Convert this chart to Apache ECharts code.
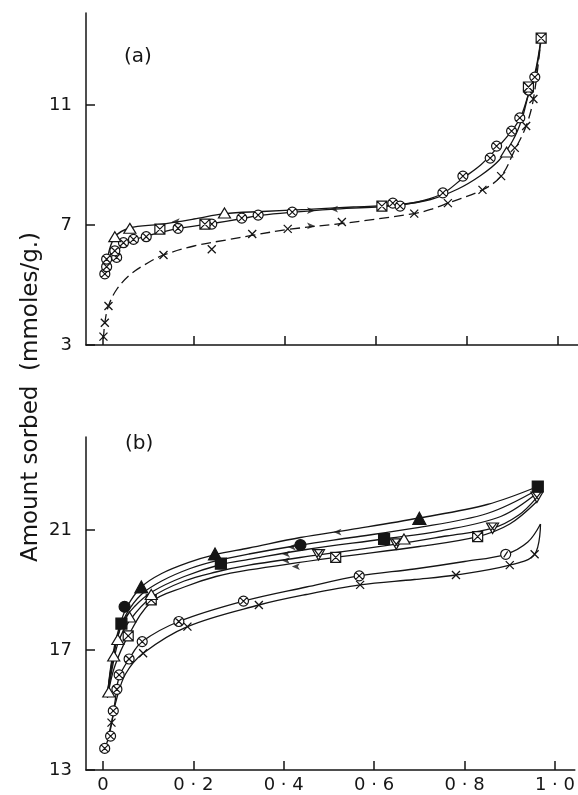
<!DOCTYPE html>
<html><head><meta charset="utf-8">
<script src="https://cdn.jsdelivr.net/npm/echarts@6/dist/echarts.min.js"></script>
<style>html,body{margin:0;padding:0;background:#fff}#c{width:578px;height:795px}</style>
</head><body><div id="c"></div>
<script>
// ---------- tick definitions ----------
const xTicks = [0, 0.2, 0.4, 0.6, 0.8, 1.0];
const xTickLabels = ['0', '0 · 2', '0 · 4', '0 · 6', '0 · 8', '1 · 0'];
const yTicksA = [3, 7, 11];
const yTicksB = [13, 17, 21];

// ---------- panel (a) markers ----------
const a_circX = [[0.004,5.37],[0.008,5.61],[0.008,5.86],[0.030,5.92],[0.026,6.14],[0.045,6.41],[0.067,6.52],[0.095,6.61],[0.165,6.89],[0.239,7.03],[0.305,7.23],[0.341,7.33],[0.416,7.43],[0.637,7.73],[0.653,7.63],[0.747,8.07],[0.791,8.63],[0.851,9.23],[0.865,9.63],[0.898,10.13],[0.916,10.57],[0.935,11.5],[0.949,11.93]];
const a_tri = [[0.026,6.61],[0.059,6.89],[0.267,7.4],[0.887,9.43]];
const a_sqX = [[0.125,6.86],[0.224,7.03],[0.613,7.63],[0.935,11.6],[0.963,13.23]];
const a_cross = [[0.001,3.28],[0.004,3.74],[0.012,4.3],[0.133,6.0],[0.239,6.19],[0.328,6.7],[0.406,6.87],[0.525,7.1],[0.684,7.38],[0.758,7.73],[0.834,8.17],[0.875,8.63],[0.905,9.57],[0.93,10.3],[0.946,11.2]];
// ---------- panel (a) curves ----------
const a_curveSorb = [[0.004,5.35],[0.01,5.9],[0.03,6.15],[0.06,6.45],[0.1,6.65],[0.165,6.88],[0.24,7.05],[0.3,7.2],[0.35,7.33],[0.42,7.43],[0.5,7.52],[0.6,7.6],[0.65,7.66],[0.7,7.8],[0.747,8.05],[0.79,8.55],[0.83,9.0],[0.865,9.55],[0.898,10.13],[0.918,10.6],[0.935,11.35],[0.95,12.0],[0.963,13.23]];
const a_curveDesorb = [[0.01,5.9],[0.026,6.6],[0.059,6.9],[0.125,7.02],[0.2,7.2],[0.267,7.38],[0.35,7.45],[0.45,7.52],[0.55,7.6],[0.65,7.68],[0.72,7.85],[0.78,8.2],[0.83,8.65],[0.87,9.15],[0.9,9.8],[0.92,10.5],[0.935,11.35],[0.95,12.1],[0.963,13.23]];
const a_curveCross = [[0.001,3.2],[0.004,3.74],[0.012,4.3],[0.03,4.85],[0.06,5.35],[0.1,5.75],[0.133,6.0],[0.2,6.3],[0.27,6.5],[0.33,6.66],[0.406,6.85],[0.525,7.05],[0.684,7.38],[0.72,7.52],[0.758,7.73],[0.834,8.17],[0.875,8.63],[0.905,9.5],[0.93,10.3],[0.946,11.2],[0.963,13.23]];
const a_arrowsRight = [[0.466,7.48],[0.466,6.97]];
const a_arrowsLeft = [[0.499,7.53],[0.151,7.11]];

// ---------- panel (b) markers ----------
const b_dot = [[0.048,18.44],[0.437,20.5]];
const b_triFill = [[0.085,19.1],[0.248,20.2],[0.7,21.39]];
const b_sqFill = [[0.041,17.88],[0.261,19.88],[0.622,20.7],[0.962,22.45]];
const b_tri = [[0.013,15.6],[0.024,16.8],[0.033,17.35],[0.059,18.1],[0.107,18.85],[0.666,20.7]];
const b_triDownX = [[0.477,20.17],[0.649,20.53],[0.862,21.06],[0.96,22.09]];
const b_sqX = [[0.056,17.47],[0.107,18.67],[0.515,20.09],[0.829,20.78]];
const b_circX = [[0.004,13.72],[0.017,14.13],[0.023,14.97],[0.031,15.69],[0.036,16.17],[0.058,16.7],[0.087,17.28],[0.168,17.95],[0.311,18.63],[0.567,19.47]];
const b_circSlash = [[0.891,20.19]];
const b_cross = [[0.019,14.58],[0.089,16.89],[0.187,17.78],[0.345,18.5],[0.569,19.17],[0.781,19.5],[0.9,19.83],[0.955,20.19]];
// ---------- panel (b) curves ----------
const b_curve1 = [[0.01,15.5],[0.02,16.7],[0.035,17.7],[0.052,18.4],[0.085,19.1],[0.13,19.55],[0.19,19.92],[0.248,20.18],[0.323,20.4],[0.437,20.75],[0.55,21.02],[0.7,21.4],[0.85,21.85],[0.962,22.45]];
const b_curve2 = [[0.01,15.5],[0.02,16.6],[0.035,17.55],[0.052,18.2],[0.085,18.85],[0.13,19.3],[0.19,19.7],[0.25,19.97],[0.323,20.2],[0.437,20.5],[0.55,20.75],[0.689,21.06],[0.85,21.55],[0.962,22.35]];
const b_curve3 = [[0.01,15.5],[0.02,16.5],[0.041,17.85],[0.07,18.45],[0.11,18.95],[0.18,19.45],[0.261,19.85],[0.323,20.02],[0.45,20.35],[0.622,20.7],[0.75,20.98],[0.88,21.45],[0.962,22.25]];
const b_curve4 = [[0.01,15.45],[0.022,16.5],[0.035,17.3],[0.06,18.0],[0.107,18.75],[0.18,19.3],[0.25,19.6],[0.323,19.83],[0.477,20.17],[0.649,20.53],[0.76,20.8],[0.862,21.06],[0.92,21.5],[0.96,22.09]];
const b_curve5 = [[0.01,15.4],[0.025,16.4],[0.056,17.47],[0.107,18.6],[0.18,19.1],[0.25,19.45],[0.323,19.67],[0.515,20.09],[0.7,20.45],[0.829,20.78],[0.9,21.2],[0.96,21.95]];
const b_curveCirc = [[0.004,13.72],[0.012,14.05],[0.02,14.6],[0.027,15.3],[0.036,16.1],[0.058,16.7],[0.087,17.28],[0.168,17.95],[0.311,18.63],[0.45,19.1],[0.567,19.47],[0.689,19.7],[0.8,19.95],[0.891,20.19],[0.94,20.6],[0.968,21.2]];
const b_curveCross = [[0.012,14.1],[0.019,14.58],[0.03,15.35],[0.05,16.2],[0.089,16.89],[0.187,17.78],[0.345,18.5],[0.45,18.85],[0.569,19.17],[0.689,19.35],[0.781,19.5],[0.9,19.83],[0.955,20.19],[0.968,21.2]];
const b_arrowsLeft = [[0.51,20.93],[0.409,20.43],[0.396,20.2],[0.396,19.98],[0.418,19.78]];

// ---------- styling ----------
const INK = '#151515';
const FONT = 'DejaVu Sans';
const XMIN = (86 - 103) / 455, XMAX = (578 - 103) / 455;

const CIRC_X = 'path://M10,0 A10,10 0 1,1 10,20 A10,10 0 1,1 10,0 Z M2.93,2.93 L17.07,17.07 M17.07,2.93 L2.93,17.07';
const CIRC_SL = 'path://M10,0 A10,10 0 1,1 10,20 A10,10 0 1,1 10,0 Z M6,16 L14,4';
const SQ_X = 'path://M0,0 L20,0 L20,20 L0,20 Z M0,0 L20,20 M20,0 L0,20';
const TRI_DX = 'path://M0,0 L20,0 L10,19 Z M3,0 L13,14 M17,0 L7,14';
const TRI_O = 'path://M10,0 L20,18 L0,18 Z';
const CROSS = 'path://M0,0 L10,10 M10,0 L0,10';

function curve(data, gi, dashed) {
  return {type:'line', xAxisIndex:gi, yAxisIndex:gi, data, smooth:0.35, symbol:'none', silent:true,
    lineStyle:{color:INK, width:1.3, type: dashed ? [10,5] : 'solid'}, z:2};
}
function marks(data, gi, symbol, size, fill, bw) {
  return {type:'scatter', xAxisIndex:gi, yAxisIndex:gi, data, symbol, symbolSize:size, symbolKeepAspect:true, silent:true,
    itemStyle:{color:fill, borderColor:INK, borderWidth: bw === undefined ? 1.2 : bw, opacity:1}, z:3};
}
function arrows(data, gi, rot) {
  return {type:'scatter', xAxisIndex:gi, yAxisIndex:gi, data, symbol:'arrow', symbolSize:[5,8], symbolRotate:rot, silent:true,
    itemStyle:{color:INK}, z:3};
}
const axisLine = {show:true, onZero:false, lineStyle:{color:INK, width:1.5}};
function xAxis(gi, labels) {
  return {gridIndex:gi, type:'value', min:XMIN, max:XMAX, axisLine,
    axisTick:{show:true, inside:true, length:9, customValues:xTicks, lineStyle:{color:INK, width:1.5}},
    axisLabel:{show:labels, customValues:xTicks, margin:6, fontSize:18, color:INK, fontFamily:FONT,
      formatter: v => xTickLabels[xTicks.findIndex(t => Math.abs(t - v) < 1e-6)]},
    splitLine:{show:false}};
}
function yAxis(gi, min, max, ticks) {
  return {gridIndex:gi, type:'value', min, max, axisLine,
    axisTick:{show:true, inside:true, length:9, customValues:ticks, lineStyle:{color:INK, width:1.5}},
    axisLabel:{customValues:ticks, margin:14, fontSize:18, color:INK, fontFamily:FONT},
    splitLine:{show:false}};
}

const option = {
  backgroundColor:'#fff',
  animation:false,
  grid:[
    {left:86, right:0, top:13, height:332},
    {left:86, right:0, top:437, height:333}
  ],
  xAxis:[xAxis(0,false), xAxis(1,true)],
  yAxis:[yAxis(0, 3, 3 + 332/30, yTicksA), yAxis(1, 13, 13 + 333/30, yTicksB)],
  graphic:[
    {type:'text', left:124, top:47, style:{text:'(a)', font:'20px "DejaVu Sans"', fill:INK}},
    {type:'text', left:125, top:434, style:{text:'(b)', font:'20px "DejaVu Sans"', fill:INK}},
    {type:'text', x:31, y:397, rotation:Math.PI/2,
      style:{text:'Amount sorbed  (mmoles/g.)', font:'23px "DejaVu Sans"', fill:INK, align:'center', verticalAlign:'middle'}}
  ],
  series:[
    curve(a_curveSorb,0), curve(a_curveDesorb,0), curve(a_curveCross,0,true),
    marks(a_cross,0,CROSS,8,'transparent',1.3),
    marks(a_circX,0,CIRC_X,10,'#fff'),
    marks(a_tri,0,TRI_O,[12,11],'#fff'),
    marks(a_sqX,0,SQ_X,10,'#fff'),
    arrows(a_arrowsRight,0,-90), arrows(a_arrowsLeft,0,90),

    curve(b_curve1,1), curve(b_curve2,1), curve(b_curve3,1), curve(b_curve4,1), curve(b_curve5,1),
    curve(b_curveCirc,1), curve(b_curveCross,1),
    marks(b_cross,1,CROSS,8,'transparent',1.3),
    marks(b_circX,1,CIRC_X,10,'#fff'),
    marks(b_circSlash,1,CIRC_SL,10,'#fff'),
    marks(b_sqX,1,SQ_X,10,'#fff'),
    marks(b_triDownX,1,TRI_DX,[12,11],'#fff'),
    marks(b_tri,1,TRI_O,[12,11],'#fff'),
    marks(b_dot,1,'circle',11,INK),
    marks(b_triFill,1,'triangle',[13,12],INK),
    marks(b_sqFill,1,'rect',11,INK),
    arrows(b_arrowsLeft,1,90)
  ]
};
const chart = echarts.init(document.getElementById('c'), null, {renderer:'canvas'});
chart.setOption(option);
</script></body></html>
